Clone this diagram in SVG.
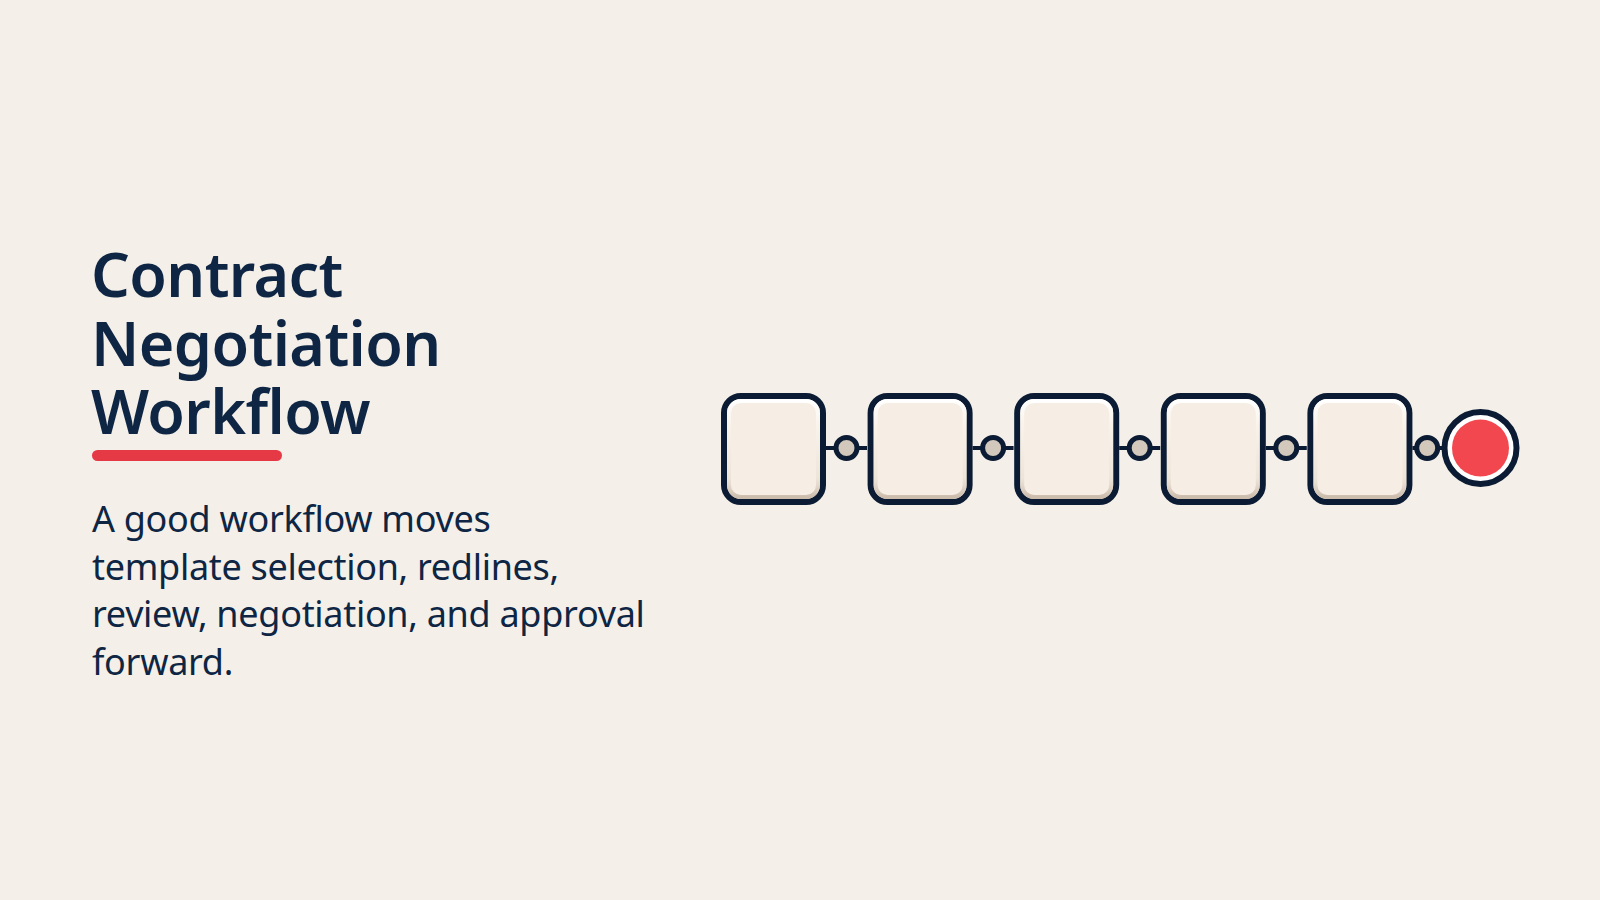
<svg xmlns="http://www.w3.org/2000/svg" width="1600" height="900" viewBox="0 0 1600 900">
  <defs>
    <linearGradient id="edge" x1="0" y1="0" x2="0" y2="1">
      <stop offset="0" stop-color="#ffffff"/>
      <stop offset="0.25" stop-color="#fbf6ef" stop-opacity="0.6"/>
      <stop offset="0.8" stop-color="#e9dfd3" stop-opacity="0.6"/>
      <stop offset="1" stop-color="#cbbcac"/>
    </linearGradient>
    <style>
      .title { font-family: "Noto Sans", "Open Sans", "Liberation Sans", sans-serif; font-weight: 600; font-size: 61px; letter-spacing: -0.6px; fill: #0e2544; }
      .body { font-family: "Noto Sans", "Open Sans", "Liberation Sans", sans-serif; font-weight: 400; font-size: 36px; letter-spacing: -0.3px; fill: #0e2544; }
      .box { fill: #f6eee4; stroke: #0b1b33; stroke-width: 6; }
      .boxin { fill: none; stroke: url(#edge); stroke-width: 4; }
      .link { stroke: #0b1b33; stroke-width: 4; fill: none; }
      .dot { fill: #d3c8bc; stroke: #0b1b33; stroke-width: 5; }
    </style>
  </defs>
  <rect width="1600" height="900" fill="#f4f0e9"/>

  <g id="heading">
    <text class="title" x="91" y="297">Contract</text>
    <text class="title" x="91" y="366">Negotiation</text>
    <text class="title" x="91" y="434">Workflow</text>
    <rect x="92" y="450" width="190" height="11" rx="5.5" fill="#e63946"/>
  </g>

  <g id="description">
    <text class="body" x="92" y="532">A good workflow moves</text>
    <text class="body" x="92" y="580">template selection, redlines,</text>
    <text class="body" x="92" y="627">review, negotiation, and approval</text>
    <text class="body" x="92" y="675">forward.</text>
  </g>

  <g id="connectors">
    <line class="link" x1="826" y1="448" x2="867" y2="448"/>
    <line class="link" x1="972.6" y1="448" x2="1013.6" y2="448"/>
    <line class="link" x1="1119.2" y1="448" x2="1160.2" y2="448"/>
    <line class="link" x1="1265.8" y1="448" x2="1306.8" y2="448"/>
    <line class="link" x1="1412.4" y1="448" x2="1443" y2="448"/>
    <circle class="dot" cx="846.5" cy="448" r="10.5"/>
    <circle class="dot" cx="993.1" cy="448" r="10.5"/>
    <circle class="dot" cx="1139.7" cy="448" r="10.5"/>
    <circle class="dot" cx="1286.3" cy="448" r="10.5"/>
    <circle class="dot" cx="1427.2" cy="448" r="10.5"/>
  </g>

  <g id="step1">
    <rect class="box" x="724" y="396" width="99" height="106" rx="17"/>
    <rect class="boxin" x="729" y="401" width="89" height="96" rx="12"/>
  </g>
  <g id="step2">
    <rect class="box" x="870.6" y="396" width="99" height="106" rx="17"/>
    <rect class="boxin" x="875.6" y="401" width="89" height="96" rx="12"/>
  </g>
  <g id="step3">
    <rect class="box" x="1017.2" y="396" width="99" height="106" rx="17"/>
    <rect class="boxin" x="1022.2" y="401" width="89" height="96" rx="12"/>
  </g>
  <g id="step4">
    <rect class="box" x="1163.8" y="396" width="99" height="106" rx="17"/>
    <rect class="boxin" x="1168.8" y="401" width="89" height="96" rx="12"/>
  </g>
  <g id="step5">
    <rect class="box" x="1310.4" y="396" width="99" height="106" rx="17"/>
    <rect class="boxin" x="1315.4" y="401" width="89" height="96" rx="12"/>
  </g>

  <g id="end">
    <circle cx="1480.5" cy="448" r="36" fill="#ffffff" stroke="#0b1b33" stroke-width="6"/>
    <circle cx="1480.5" cy="448" r="28.5" fill="#f2474f"/>
  </g>
</svg>
